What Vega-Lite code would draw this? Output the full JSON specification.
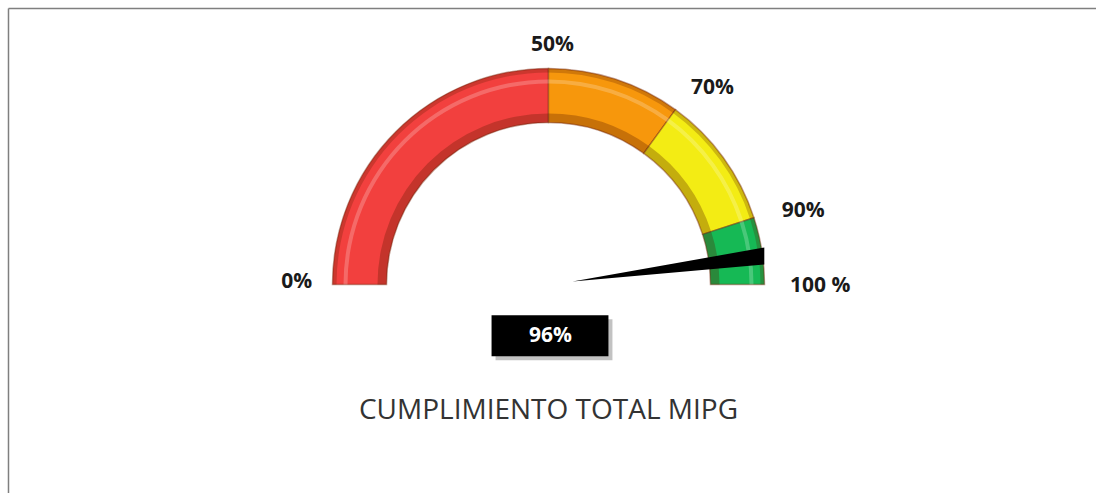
{
  "$schema": "https://vega.github.io/schema/vega-lite/v6.json",
  "width": 1097,
  "height": 494,
  "autosize": {"type": "fit", "contains": "padding"},
  "padding": 0,
  "background": "white",
  "config": {"view": {"stroke": null}},
  "datasets": {
    "segments": [
      {"band": "0-50", "start": 0, "end": 50},
      {"band": "50-70", "start": 50, "end": 70},
      {"band": "70-90", "start": 70, "end": 90},
      {"band": "90-100", "start": 90, "end": 100}
    ],
    "labels": [
      {"text": "0%", "x": -252, "y": 2},
      {"text": "50%", "x": 4, "y": 240},
      {"text": "70%", "x": 164, "y": 197},
      {"text": "90%", "x": 255, "y": 74},
      {"text": "100 %", "x": 272, "y": -2}
    ],
    "needle": [
      {"x": 24, "y": 3, "y2": 3},
      {"x": 216, "y": 20, "y2": 37}
    ],
    "box": [{"x": -57, "x2": 60, "y": -31, "y2": -72, "label": "96%"}],
    "shadow": [{"x": -53, "x2": 64, "y": -35, "y2": -76}],
    "title": [{"x": 0, "y": -127, "text": "CUMPLIMIENTO TOTAL MIPG"}],
    "frameTop": [{"x": -540.5, "x2": 548, "y": 276.5}],
    "frameLeft": [{"x": -540.5, "y": 276.5, "y2": -209}]
  },
  "layer": [
    {
      "data": {"name": "frameTop"},
      "mark": {"type": "rule", "stroke": "#7f7f7f", "strokeWidth": 1.5},
      "encoding": {
        "x": {"field": "x", "type": "quantitative", "scale": {"domain": [-549, 548], "nice": false, "zero": false}, "axis": null},
        "x2": {"field": "x2"},
        "y": {"field": "y", "type": "quantitative", "scale": {"domain": [-209, 285], "nice": false, "zero": false}, "axis": null}
      }
    },
    {
      "data": {"name": "frameLeft"},
      "mark": {"type": "rule", "stroke": "#7f7f7f", "strokeWidth": 1.5},
      "encoding": {
        "x": {"field": "x", "type": "quantitative"},
        "y": {"field": "y", "type": "quantitative"},
        "y2": {"field": "y2"}
      }
    },
    {
      "data": {"name": "segments"},
      "mark": {"type": "arc", "radius": 216, "radius2": 162, "stroke": "#7a2a10", "strokeOpacity": 0.45, "strokeWidth": 1.5},
      "encoding": {
        "x": {"datum": 0, "type": "quantitative"},
        "y": {"datum": 0, "type": "quantitative"},
        "theta": {"field": "start", "type": "quantitative", "stack": null, "scale": {"domain": [0, 100], "range": [-1.5708, 1.5708]}},
        "theta2": {"field": "end"},
        "color": {"field": "band", "type": "nominal", "legend": null,
          "scale": {"domain": ["0-50", "50-70", "70-90", "90-100"], "range": ["#F2403E", "#F7970C", "#F3EC14", "#16B955"]}}
      }
    },
    {
      "data": {"name": "segments"},
      "mark": {"type": "arc", "radius": 171, "radius2": 162, "opacity": 0.3},
      "encoding": {
        "x": {"datum": 0, "type": "quantitative"},
        "y": {"datum": 0, "type": "quantitative"},
        "theta": {"field": "start", "type": "quantitative", "stack": null, "scale": {"domain": [0, 100], "range": [-1.5708, 1.5708]}},
        "theta2": {"field": "end"},
        "color": {"value": "#5a1a00"}
      }
    },
    {
      "data": {"name": "segments"},
      "mark": {"type": "arc", "radius": 216, "radius2": 212, "opacity": 0.25},
      "encoding": {
        "x": {"datum": 0, "type": "quantitative"},
        "y": {"datum": 0, "type": "quantitative"},
        "theta": {"field": "start", "type": "quantitative", "stack": null, "scale": {"domain": [0, 100], "range": [-1.5708, 1.5708]}},
        "theta2": {"field": "end"},
        "color": {"value": "#5a1a00"}
      }
    },
    {
      "data": {"name": "segments"},
      "mark": {"type": "arc", "radius": 205, "radius2": 201, "opacity": 0.22},
      "encoding": {
        "x": {"datum": 0, "type": "quantitative"},
        "y": {"datum": 0, "type": "quantitative"},
        "theta": {"field": "start", "type": "quantitative", "stack": null, "scale": {"domain": [0, 100], "range": [-1.5708, 1.5708]}},
        "theta2": {"field": "end"},
        "color": {"value": "#ffffff"}
      }
    },
    {
      "data": {"name": "needle"},
      "mark": {"type": "area", "color": "#000000"},
      "encoding": {
        "x": {"field": "x", "type": "quantitative"},
        "y": {"field": "y", "type": "quantitative"},
        "y2": {"field": "y2"}
      }
    },
    {
      "data": {"name": "labels"},
      "mark": {"type": "text", "font": "Open Sans", "fontWeight": "bold", "fontSize": 21, "color": "#1a1a1a", "align": "center", "baseline": "middle"},
      "encoding": {
        "x": {"field": "x", "type": "quantitative"},
        "y": {"field": "y", "type": "quantitative"},
        "text": {"field": "text"}
      }
    },
    {
      "data": {"name": "shadow"},
      "mark": {"type": "rect", "color": "#9a9a9a", "opacity": 0.6},
      "encoding": {
        "x": {"field": "x", "type": "quantitative"},
        "x2": {"field": "x2"},
        "y": {"field": "y", "type": "quantitative"},
        "y2": {"field": "y2"}
      }
    },
    {
      "data": {"name": "box"},
      "mark": {"type": "rect", "color": "#000000"},
      "encoding": {
        "x": {"field": "x", "type": "quantitative"},
        "x2": {"field": "x2"},
        "y": {"field": "y", "type": "quantitative"},
        "y2": {"field": "y2"}
      }
    },
    {
      "data": {"name": "box"},
      "mark": {"type": "text", "font": "Open Sans", "fontWeight": "bold", "fontSize": 21, "color": "#ffffff", "align": "center", "baseline": "middle"},
      "encoding": {
        "x": {"datum": 2, "type": "quantitative"},
        "y": {"datum": -52, "type": "quantitative"},
        "text": {"field": "label"}
      }
    },
    {
      "data": {"name": "title"},
      "mark": {"type": "text", "font": "Open Sans", "fontSize": 28, "color": "#333333", "align": "center", "baseline": "middle"},
      "encoding": {
        "x": {"field": "x", "type": "quantitative"},
        "y": {"field": "y", "type": "quantitative"},
        "text": {"field": "text"}
      }
    }
  ]
}
